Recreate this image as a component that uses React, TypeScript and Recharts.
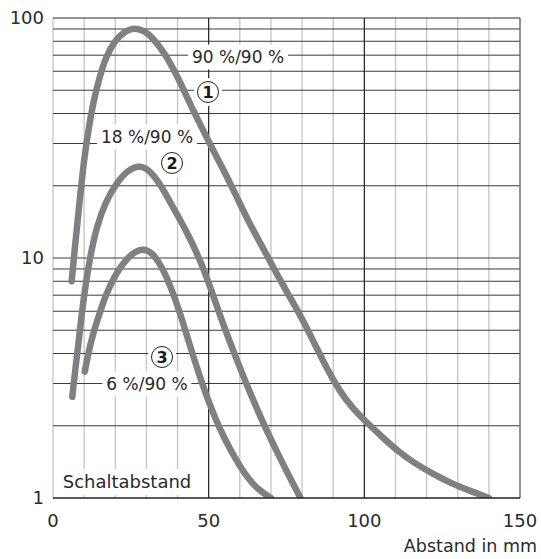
import { LineChart, Line, XAxis, YAxis, ReferenceLine } from 'recharts';

// Kurve 1: 90 %/90 %
const curve1 = [
  { x: 6, y: 8 }, { x: 7, y: 11 }, { x: 8.5, y: 17 }, { x: 10, y: 26 }, { x: 11.5, y: 35 },
  { x: 13, y: 45 }, { x: 15, y: 57 }, { x: 17, y: 69 }, { x: 20, y: 81 }, { x: 23, y: 88 },
  { x: 26, y: 91 }, { x: 29, y: 89 }, { x: 32, y: 83 }, { x: 36, y: 71 }, { x: 40, y: 57 },
  { x: 44, y: 44 }, { x: 48, y: 34.5 }, { x: 51.5, y: 28 }, { x: 55, y: 23 }, { x: 59, y: 18 },
  { x: 63, y: 14 }, { x: 67.5, y: 11 }, { x: 72, y: 8.5 }, { x: 76, y: 6.9 }, { x: 80, y: 5.6 },
  { x: 84, y: 4.4 }, { x: 88, y: 3.45 }, { x: 92, y: 2.8 }, { x: 96, y: 2.38 }, { x: 101, y: 2.05 },
  { x: 106, y: 1.78 }, { x: 111, y: 1.56 }, { x: 116, y: 1.4 }, { x: 122, y: 1.26 }, { x: 128, y: 1.15 },
  { x: 134, y: 1.07 }, { x: 140, y: 1.0 },
];

// Kurve 2: 18 %/90 %
const curve2 = [
  { x: 6.2, y: 2.64 }, { x: 7, y: 3.3 }, { x: 8, y: 4.2 }, { x: 9.6, y: 6.5 }, { x: 11.8, y: 10 },
  { x: 14, y: 13.5 }, { x: 17, y: 17.3 }, { x: 20.4, y: 20.5 }, { x: 24, y: 23.3 }, { x: 28, y: 24.4 },
  { x: 31, y: 23.2 }, { x: 34.3, y: 20.5 }, { x: 38.5, y: 16.3 }, { x: 42.8, y: 13 }, { x: 47, y: 10 },
  { x: 50.5, y: 7.6 }, { x: 54.6, y: 5.3 }, { x: 58.9, y: 3.8 }, { x: 63, y: 2.8 }, { x: 67.5, y: 2.05 },
  { x: 72, y: 1.55 }, { x: 76, y: 1.22 }, { x: 79.5, y: 1.0 },
];

// Kurve 3: 6 %/90 %
const curve3 = [
  { x: 10.2, y: 3.36 }, { x: 11.5, y: 4.1 }, { x: 13, y: 4.9 }, { x: 15, y: 5.9 }, { x: 17.1, y: 7.1 },
  { x: 20, y: 8.5 }, { x: 22.5, y: 9.5 }, { x: 25.5, y: 10.5 }, { x: 29, y: 11 }, { x: 32, y: 10.5 },
  { x: 35, y: 9.2 }, { x: 38, y: 7.5 }, { x: 41, y: 5.8 }, { x: 44, y: 4.3 }, { x: 47, y: 3.25 },
  { x: 50.3, y: 2.45 }, { x: 53.5, y: 1.95 }, { x: 57, y: 1.58 }, { x: 62, y: 1.23 }, { x: 66, y: 1.08 },
  { x: 70, y: 1.0 },
];

const xTicks = [0, 50, 100, 150];
const yTicks = [1, 10, 100];
const xMinorGrid = [10, 20, 30, 40, 60, 70, 80, 90, 110, 120, 130, 140];
const xMajorGrid = [50, 100];
const yGrid = [2, 3, 4, 5, 6, 7, 8, 9, 20, 30, 40, 50, 60, 70, 80, 90, 10];

const FONT = '"DejaVu Sans", sans-serif';
const CURVE = '#808083';

const boxed = (cx: number, cy: number, size: number): React.CSSProperties => ({
  position: 'absolute',
  left: cx,
  top: cy,
  transform: 'translate(-50%, -50%)',
  background: '#fff',
  padding: '3px 4px',
  fontSize: size,
  lineHeight: `${size + 2}px`,
  color: '#2a2a2a',
  whiteSpace: 'nowrap',
});

const Circled = ({ n, cx, cy }: { n: string; cx: number; cy: number }) => (
  <div style={{ ...boxed(cx, cy, 15), padding: 3 }}>
    <div
      style={{
        width: 20,
        height: 20,
        border: '1.5px solid #222',
        borderRadius: '50%',
        display: 'flex',
        alignItems: 'center',
        justifyContent: 'center',
        fontWeight: 'bold',
        fontSize: 16,
        color: '#1a1a1a',
      }}
    >
      {n}
    </div>
  </div>
);

export default function App() {
  return (
    <div
      style={{
        position: 'absolute',
        left: 0,
        top: 0,
        width: 541,
        height: 559,
        background: '#fff',
        fontFamily: FONT,
      }}
    >
      <LineChart width={541} height={559} margin={{ top: 18, right: 21, bottom: 31, left: 0 }}>
        <XAxis
          type="number"
          dataKey="x"
          domain={[0, 150]}
          ticks={xTicks}
          allowDataOverflow
          height={30}
          tickSize={0}
          tickMargin={16}
          tickLine={false}
          axisLine={{ stroke: '#222', strokeWidth: 1.6 }}
          tick={{ fill: '#2a2a2a', fontSize: 18, fontFamily: FONT }}
        />
        <YAxis
          type="number"
          dataKey="y"
          scale="log"
          domain={[1, 100]}
          ticks={yTicks}
          allowDataOverflow
          width={53}
          tickSize={0}
          tickMargin={9}
          tickLine={false}
          axisLine={false}
          tick={{ fill: '#2a2a2a', fontSize: 18, fontFamily: FONT }}
        />

        {xMinorGrid.map((v) => (
          <ReferenceLine key={'xm' + v} x={v} stroke="#c8c8c8" strokeWidth={1.4} />
        ))}
        <ReferenceLine x={0} stroke="#c8c8c8" strokeWidth={1.4} />
        {yGrid.map((v) => (
          <ReferenceLine key={'y' + v} y={v} stroke="#3a3a3a" strokeWidth={1} />
        ))}
        {xMajorGrid.map((v) => (
          <ReferenceLine key={'xM' + v} x={v} stroke="#1e1e1e" strokeWidth={1.2} />
        ))}
        <ReferenceLine y={100} stroke="#2a2a2a" strokeWidth={1.2} />
        <ReferenceLine x={150} stroke="#666" strokeWidth={1.4} />

        <Line data={curve1} dataKey="y" type="basis" stroke={CURVE} strokeWidth={6.5} strokeLinecap="round" dot={false} isAnimationActive={false} />
        <Line data={curve2} dataKey="y" type="basis" stroke={CURVE} strokeWidth={6.5} strokeLinecap="round" dot={false} isAnimationActive={false} />
        <Line data={curve3} dataKey="y" type="basis" stroke={CURVE} strokeWidth={6.5} strokeLinecap="round" dot={false} isAnimationActive={false} />
      </LineChart>

      <div style={boxed(238, 57, 17)}>90 %/90 %</div>
      <div style={boxed(147, 137, 17)}>18 %/90 %</div>
      <div style={boxed(147, 384, 17)}>6 %/90 %</div>
      <div style={boxed(127, 482, 18)}>Schaltabstand</div>
      <Circled n="1" cx={208} cy={92} />
      <Circled n="2" cx={172} cy={163} />
      <Circled n="3" cx={162} cy={357} />

      <div
        style={{
          position: 'absolute',
          right: 4,
          top: 536,
          fontSize: 17.5,
          lineHeight: '20px',
          color: '#2a2a2a',
          whiteSpace: 'nowrap',
        }}
      >
        Abstand in mm
      </div>
    </div>
  );
}
